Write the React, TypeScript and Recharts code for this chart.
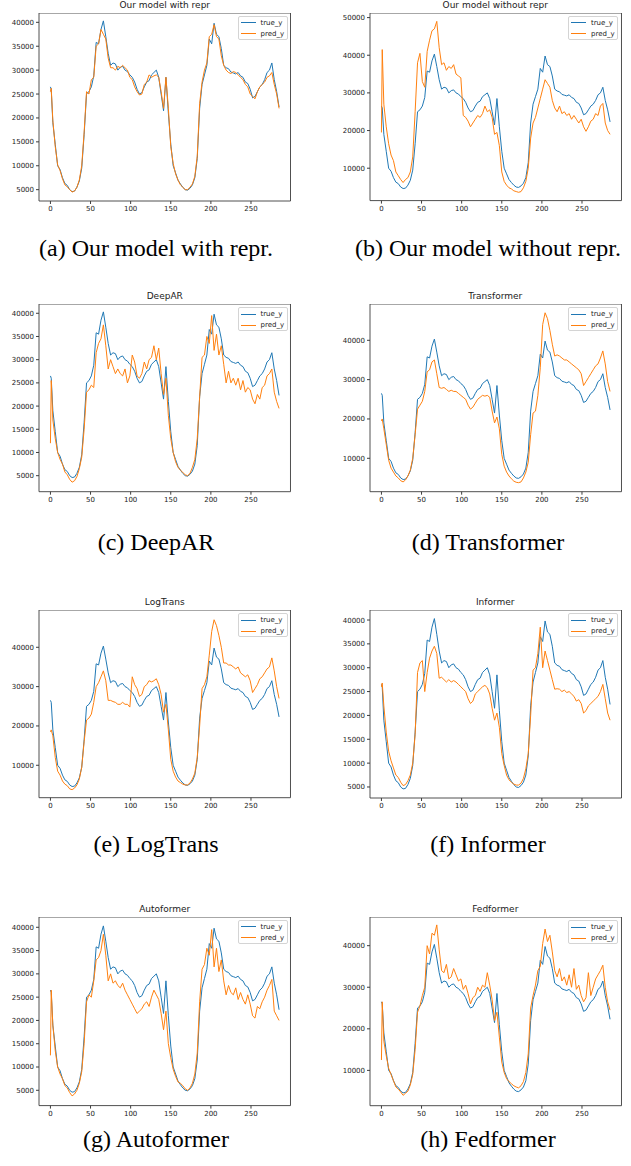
import { LineChart, Line, XAxis, YAxis, Legend, ReferenceArea } from 'recharts';

// time index (sampled every 3 steps, plus the first jump at 1)
const X = [
  0, 1, 3, 6, 9, 12, 15, 18, 21, 24,
  27, 30, 33, 36, 39, 42, 45, 48, 51, 54,
  57, 60, 63, 66, 69, 72, 75, 78, 81, 84,
  87, 90, 93, 96, 99, 102, 105, 108, 111, 114,
  117, 120, 123, 126, 129, 132, 135, 138, 141, 144,
  147, 150, 153, 156, 159, 162, 165, 168, 171, 174,
  177, 180, 183, 186, 189, 192, 195, 198, 201, 204,
  207, 210, 213, 216, 219, 222, 225, 228, 231, 234,
  237, 240, 243, 246, 249, 252, 255, 258, 261, 264,
  267, 270, 273, 276, 279, 282, 285,
];

const TRUE_Y = [
  26500, 26000, 19000, 14500, 10000, 9200, 7500, 6300, 5900, 5000,
  4600, 4700, 5500, 6800, 9500, 16500, 25000, 25500, 26500, 28800,
  35800, 35500, 38500, 40300, 37000, 33500, 31000, 31500, 31300, 30000,
  30600, 30800, 30000, 29700, 29000, 28500, 27500, 26000, 25000, 25300,
  26500, 27500, 27800, 29000, 29500, 30000, 28500, 25000, 21500, 28500,
  21000, 14500, 10000, 8500, 7000, 6200, 5500, 5000, 4900, 5300,
  6000, 7500, 11500, 22000, 27000, 29000, 31000, 36500, 35500, 39800,
  37500, 37000, 34500, 31000, 30500, 30300, 29600, 29400, 29200, 29500,
  28800, 28500, 27500, 27200, 26000, 24200, 24500, 25500, 26500, 27000,
  28000, 29500, 30000, 31500, 28000, 25500, 22300,
];

const PRED_WITH_REPR = [
  25500, 26200, 19500, 14000, 10200, 9000, 7300, 6000, 5600, 5000,
  4500, 4700, 5500, 7000, 10000, 17000, 25500, 25000, 28000, 28500,
  35000, 35500, 38500, 37500, 36500, 32500, 30500, 30500, 30000, 30800,
  30500, 31000, 30500, 30000, 28500, 28000, 26500, 25500, 24800, 25000,
  27000, 27500, 29000, 28500, 28800, 29000, 28500, 25500, 22000, 28500,
  22000, 14000, 10500, 8300, 7000, 6000, 5500, 5000, 5000, 5500,
  6200, 7800, 12000, 23000, 27500, 30000, 31500, 37000, 37500, 39500,
  37000, 36500, 33000, 31000, 30000, 29500, 29300, 29700, 29500, 29000,
  28500, 28000, 27000, 26500, 25000, 24500, 24000, 25500, 26500, 27000,
  27500, 28500, 28800, 29500, 27000, 25000, 22000,
];

const PRED_WITHOUT_REPR = [
  19500, 41500, 27000, 21000, 16500, 13500, 12000, 9000, 8000, 7000,
  6200, 7000, 7500, 9000, 13000, 25000, 38000, 40500, 33000, 31500,
  41000, 44000, 46500, 47000, 49000, 42000, 37500, 38000, 36000, 37000,
  36500, 37500, 35000, 34500, 34000, 24000, 23500, 22500, 21000, 22000,
  23000, 24000, 23500, 24500, 26500, 25000, 25500, 23500, 19000, 19500,
  16000, 9000, 6500, 5500, 4800, 4500, 4000, 3800, 3600, 3800,
  4800, 6500, 10000, 18000, 22000, 23500, 26000, 28500, 31000, 33500,
  32500, 31500, 28000, 26000, 25000, 26500, 24500, 25000, 24000, 24500,
  23000, 24000, 23000, 22000, 23000, 21000, 19800, 21000, 22500, 23000,
  24500, 24000, 26500, 27200, 22000, 20000, 19000,
];

const PRED_DEEPAR = [
  12000, 25500, 17000, 13000, 10000, 8500, 7500, 5800, 5200, 4200,
  3600, 3900, 4800, 6500, 9000, 15000, 23000, 23500, 24500, 24000,
  31500, 33500, 34500, 37500, 33000, 28000, 30000, 28500, 27000, 28000,
  27000, 26500, 28000, 25000, 26500, 31000, 29500, 26500, 26000, 27000,
  29500, 28000, 30000, 30500, 33000, 30000, 32500, 27000, 22500, 26000,
  18000, 13000, 10000, 8000, 6800, 6200, 5700, 5200, 5000, 5500,
  6800, 8500, 13000, 22000, 30500, 31000, 35000, 33500, 39500, 32000,
  35500, 31000, 33000, 29000, 25000, 27500, 25000, 26000, 24500, 26000,
  23500, 25500, 23000, 24000, 23500, 21500, 20500, 22500, 21500, 24000,
  24500, 26500, 27000, 28000, 23000, 21000, 19500,
];

const PRED_TRANSFORMER = [
  19500, 20000, 17500, 13500, 9500, 7500, 6500, 5500, 5000, 4300,
  4000, 4500, 5500, 7000, 10000, 16000, 22500, 23500, 24500, 27000,
  32000, 32500, 34500, 35000, 31500, 28000, 27800, 28000, 27500, 27000,
  27300, 27000, 27000, 26500, 26000, 25500, 25000, 23500, 22500, 23000,
  24000, 25000, 25500, 26000, 25800, 26000, 25500, 22000, 19000, 20500,
  17500, 11000, 8000, 6500, 5500, 4800, 4200, 3900, 3800, 4000,
  5000, 6500, 9000, 16000, 21500, 22000, 26000, 33000, 44000, 47000,
  45500, 42500, 39000, 36000, 36300, 36000, 35500, 35000, 35000, 34500,
  34000, 33500, 33000, 32500, 31500, 28500, 29500, 30500, 31500, 32500,
  33500, 34000, 35500, 37300, 34000, 29500, 27000,
];

const PRED_LOGTRANS = [
  18500, 19000, 17500, 12000, 8500, 7500, 6000, 5200, 4800, 4000,
  3800, 4200, 5000, 6500, 9500, 16000, 21500, 22000, 23000, 26000,
  30000, 31000, 32500, 34000, 31500, 26500, 26500, 26200, 26000, 25500,
  25500, 26000, 25500, 25500, 24800, 32500, 30500, 29500, 27500, 28000,
  30000, 30500, 31500, 31200, 31500, 32000, 30500, 28000, 23500, 25500,
  19000, 11500, 8500, 7000, 6000, 5600, 5200, 5000, 5000, 5500,
  6500, 8000, 12000, 20000, 29500, 30500, 32500, 38000, 44000, 47000,
  45500, 43000, 40000, 36000, 36000, 35500, 35500, 35000, 34500, 35000,
  33500, 33000, 32500, 33000, 31500, 28500, 29500, 30500, 32000, 32500,
  33500, 34500, 35000, 37300, 34000, 30000, 27000,
];

const PRED_INFORMER = [
  26000, 26800, 22000, 16500, 12500, 10500, 9000, 7500, 7000, 6000,
  5300, 5500, 6300, 7500, 10000, 16000, 29000, 31000, 31500, 25000,
  29000, 32000, 33500, 34500, 33000, 27800, 28000, 27500, 27000, 27500,
  27000, 27300, 27000, 26500, 26000, 25500, 25000, 23500, 22500, 23000,
  24500, 25000, 25500, 26000, 26300, 25800, 24500, 21500, 19000, 20500,
  17500, 12000, 9500, 7500, 6500, 6000, 5600, 5400, 5400, 5800,
  6800, 8800, 12000, 20000, 29500, 30000, 33000, 38500, 30000, 33500,
  31500, 29500, 27500, 25500, 25600, 25500, 25000, 25300, 24800, 25000,
  24500, 24000, 23000, 23300, 22500, 20500, 21000, 22000, 22500, 23000,
  23500, 24000, 25000, 26500, 23500, 20500, 19000,
];

const PRED_AUTOFORMER = [
  12500, 26500, 19000, 13500, 10000, 8500, 7500, 6000, 5500, 4500,
  3800, 4200, 5000, 6500, 9000, 15000, 24000, 25500, 25000, 28500,
  33000, 33500, 35000, 38500, 34000, 28500, 30000, 28000, 28500, 27500,
  27000, 28000, 26500, 25500, 24500, 23500, 22500, 21500, 22000, 22500,
  23500, 24000, 23000, 25000, 26500, 25500, 24500, 21500, 18000, 22000,
  15000, 12000, 9500, 8000, 6800, 6500, 6000, 5300, 5000, 5500,
  6500, 8500, 13000, 24000, 31000, 32000, 35500, 34000, 39500, 31500,
  35500, 30500, 33000, 28500, 25500, 27500, 26000, 25500, 27000, 24500,
  26000, 24500, 23500, 25500, 23500, 21000, 20500, 23000, 22500, 24000,
  25000, 26500, 27500, 28800, 22000, 21000, 20000,
];

const PRED_FEDFORMER = [
  12500, 26500, 17000, 13500, 10500, 9000, 7500, 6000, 5500, 4800,
  4000, 4500, 5000, 6500, 9000, 15000, 24000, 25500, 28000, 30000,
  40000, 38000, 43000, 42500, 45000, 39000, 34000, 33500, 35500, 32000,
  32500, 34500, 33000, 31500, 32000, 29500, 30500, 28500, 26000, 27500,
  28000, 30000, 29000, 30500, 30000, 33500, 30500, 27000, 22000, 24000,
  18000, 12000, 9500, 8000, 7300, 6800, 6300, 6000, 5800, 6300,
  7300, 9500, 14000, 25000, 28000, 30500, 34000, 35000, 40500, 44000,
  41000, 42500, 38500, 34000, 32500, 34500, 31500, 32500, 30500, 33000,
  30000, 34500, 29500, 30500, 28000, 26500, 27500, 33500, 28000, 30000,
  32000, 33000, 34000, 35300, 30000, 26500, 24500,
];

const X_TICKS = [0, 50, 100, 150, 200, 250];
const TICKS_5K = [5000, 10000, 15000, 20000, 25000, 30000, 35000, 40000];
const TICKS_10K = [10000, 20000, 30000, 40000];
const TICKS_10K_50 = [10000, 20000, 30000, 40000, 50000];
const X_DOMAIN = [-14.25, 299.25];

const SERIES = [
  { key: 'true_y', color: '#1f77b4' },
  { key: 'pred_y', color: '#ff7f0e' },
];

const PLOT_W = 251.5;
const YW = 40;
const XH = 18;
const FRAME = '#3c3c3c';
const TICK_STYLE = { fontSize: 7, fill: '#222', fontFamily: 'DejaVu Sans' };

const PANELS = [
  { title: 'Our model with repr', caption: '(a) Our model with repr.', pred: PRED_WITH_REPR, left: 39, top: 12.7, h: 188, domain: [2630, 41950], ticks: TICKS_5K },
  { title: 'Our model without repr', caption: '(b) Our model without repr.', pred: PRED_WITHOUT_REPR, left: 369.5, top: 12.7, h: 187.6, domain: [1400, 51220], ticks: TICKS_10K_50 },
  { title: 'DeepAR', caption: '(c) DeepAR', pred: PRED_DEEPAR, left: 39, top: 304, h: 187.7, domain: [1550, 42000], ticks: TICKS_5K },
  { title: 'Transformer', caption: '(d) Transformer', pred: PRED_TRANSFORMER, left: 369.5, top: 304, h: 187.7, domain: [1510, 49230], ticks: TICKS_10K },
  { title: 'LogTrans', caption: '(e) LogTrans', pred: PRED_LOGTRANS, left: 39, top: 610, h: 187.7, domain: [1760, 49480], ticks: TICKS_10K },
  { title: 'Informer', caption: '(f) Informer', pred: PRED_INFORMER, left: 369.5, top: 610, h: 188, domain: [2690, 42100], ticks: TICKS_5K },
  { title: 'Autoformer', caption: '(g) Autoformer', pred: PRED_AUTOFORMER, left: 39, top: 916.7, h: 188.6, domain: [1715, 42210], ticks: TICKS_5K },
  { title: 'Fedformer', caption: '(h) Fedformer', pred: PRED_FEDFORMER, left: 369.5, top: 917.3, h: 188.7, domain: [1507, 46900], ticks: TICKS_10K },
];

const CAPTION_Y = [250, 544, 846, 1141];
const CAPTION_X = [156, 488];

// matplotlib-style legend box, always true_y then pred_y
function LegendBox() {
  return (
    <div style={{
      width: 50, height: 24, boxSizing: 'border-box', border: '1px solid #d4d4d4', borderRadius: 2,
      background: 'rgba(255,255,255,0.85)', position: 'relative',
      fontFamily: 'DejaVu Sans', fontSize: 7, color: '#222',
    }}>
      {SERIES.map((s, i) => (
        <div key={s.key} style={{ position: 'absolute', left: 2, top: 1 + i * 11, height: 10, display: 'flex', alignItems: 'center', whiteSpace: 'nowrap' }}>
          <span style={{ display: 'inline-block', width: 15, height: 1, background: s.color, marginRight: 5 }} />
          <span>{s.key}</span>
        </div>
      ))}
    </div>
  );
}

function Panel({ p }: { p: typeof PANELS[number] }) {
  const data = X.map((x, i) => ({ x, true_y: TRUE_Y[i], pred_y: p.pred[i] }));
  return (
    <>
      <div style={{
        position: 'absolute', left: p.left, top: p.top - 14, width: PLOT_W, textAlign: 'center',
        fontFamily: 'DejaVu Sans', fontSize: 9, lineHeight: '12px', color: '#222',
      }}>{p.title}</div>
      <div style={{ position: 'absolute', left: p.left - YW, top: p.top }}>
        <LineChart width={YW + PLOT_W + 1} height={p.h + XH} data={data} margin={{ top: 0, right: 1, bottom: 0, left: 0 }}>
          <XAxis type="number" dataKey="x" domain={X_DOMAIN} ticks={X_TICKS} allowDataOverflow interval={0}
            axisLine={false} tickSize={3} tickMargin={2} height={XH} tick={TICK_STYLE} tickLine={{ stroke: FRAME }} />
          <YAxis type="number" domain={p.domain} ticks={p.ticks} allowDataOverflow interval={0} width={YW}
            axisLine={false} tickSize={3} tickMargin={2} tick={TICK_STYLE} tickLine={{ stroke: FRAME }} />
          <ReferenceArea x1={X_DOMAIN[0]} x2={X_DOMAIN[1]} y1={p.domain[0]} y2={p.domain[1]}
            fill="none" fillOpacity={0} stroke={FRAME} strokeWidth={0.9} />
          {SERIES.map((s) => (
            <Line key={s.key} type="linear" dataKey={s.key} name={s.key} stroke={s.color} strokeWidth={1}
              dot={false} isAnimationActive={false} />
          ))}
          <Legend content={LegendBox} layout="horizontal" verticalAlign="middle" align="center"
            wrapperStyle={{ top: 3, left: YW + PLOT_W - 53, width: 50, height: 24 }} />
        </LineChart>
      </div>
    </>
  );
}

export default function App() {
  return (
    <div style={{ position: 'absolute', left: 0, top: 0, width: 631, height: 1166, background: '#fff', overflow: 'hidden' }}>
      {PANELS.map((p) => <Panel key={p.title} p={p} />)}
      {PANELS.map((p, i) => (
        <div key={p.caption} style={{
          position: 'absolute', left: CAPTION_X[i % 2] - 160, top: CAPTION_Y[Math.floor(i / 2)] - 14, width: 320,
          textAlign: 'center', fontFamily: '"Liberation Serif", "Times New Roman", serif', fontSize: 24, lineHeight: '24px', color: '#000',
          whiteSpace: 'nowrap',
        }}>{p.caption}</div>
      ))}
    </div>
  );
}
